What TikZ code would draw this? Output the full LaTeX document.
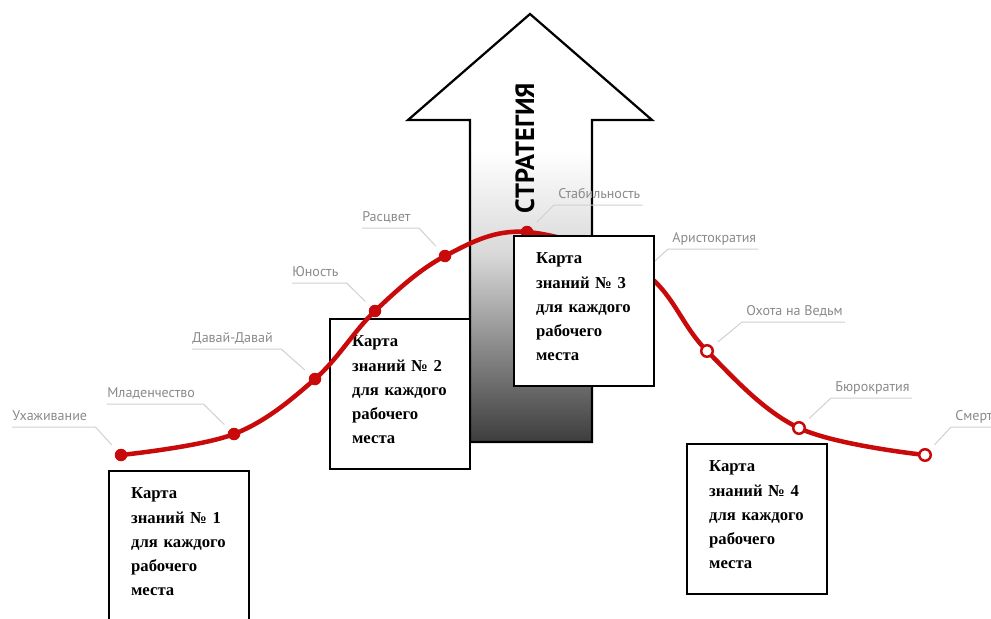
\documentclass[tikz,border=0pt]{standalone}
\usepackage{fontspec}
\setmainfont{Liberation Serif}
\newfontfamily\lblfont{PT Sans}
\usetikzlibrary{calc}

\definecolor{curvered}{HTML}{C80A0A}
\definecolor{lblgray}{HTML}{8A8A8A}
\definecolor{leadgray}{HTML}{D0D0D0}

%white head, darkening shaft
\pgfdeclareverticalshading{stratshade}{100bp}{color(0bp)=(black!76); color(25bp)=(black!76);
  color(36bp)=(black!46); color(47bp)=(black!15); color(59bp)=(white); color(100bp)=(white)}

\tikzset{
  kbox/.style={draw, fill=white, line width=0.45mm, anchor=north west,
    minimum width=28mm, minimum height=30mm, text width=19.2mm, inner xsep=4.4mm,
    align=left, font=\bfseries\fontsize{9.5}{13.7}\selectfont},
  lbl/.style={anchor=base west, inner sep=0, text=lblgray,
    font=\lblfont\fontsize{8}{9.6}\selectfont},
  leader/.style={draw=leadgray, line width=0.2mm},
  fulldot/.style={circle, fill=curvered, inner sep=0, minimum size=2.5mm},
  opendot/.style={circle, draw=curvered, fill=white, line width=0.5mm, inner sep=0, minimum size=2.3mm},
  curve/.style={curvered, line width=0.9mm, line cap=round},
  strat/.style={rotate=90, inner sep=0, font=\lblfont\bfseries\fontsize{15}{18}\selectfont}
}

\begin{document}
\begin{tikzpicture}[x=0.2mm,y=-0.2mm]
  \useasboundingbox (0,0) rectangle (991,618);

  %strategy arrow
  \draw[line width=0.45mm, shading=stratshade]
    (470,442) -- (470,120) -- (408,120) -- (530,14) -- (652,120) -- (592,120) -- (592,442) -- cycle;
  \node[strat] (strat) at (525,148) {СТРАТЕГИЯ};

  %card 2 lies under the curve
  \node[kbox] (k2) at (329,318) {Карта\\знаний~№~2\\для~каждого\\рабочего\\места\rule[-1.8mm]{0pt}{1.8mm}};

  %points of the life cycle
  \coordinate (c1) at (121,455);
  \coordinate (c2) at (234,434);
  \coordinate (c3) at (315,379);
  \coordinate (c4) at (375,311);
  \coordinate (c5) at (445,256);
  \coordinate (c6) at (527,232);
  \coordinate (c7) at (643,272);
  \coordinate (c8) at (707,351);
  \coordinate (c9) at (799,428);
  \coordinate (c10) at (925,455);

  %stage labels
  \node[lbl] (l1) at (12,420) {Ухаживание};
  \node[lbl] (l2) at (107,397) {Младенчество};
  \node[lbl] (l3) at (192,342) {Давай-Давай};
  \node[lbl] (l4) at (292,276) {Юность};
  \node[lbl] (l5) at (362,221) {Расцвет};
  \node[lbl] (l6) at (558,198) {Стабильность};
  \node[lbl] (l7) at (672,242) {Аристократия};
  \node[lbl] (l8) at (746,315) {Охота на Ведьм};
  \node[lbl] (l9) at (835,391) {Бюрократия};
  \node[lbl] (l10) at (955,420) {Смерть};

  %curve and dots
  \draw[curve] plot[smooth, tension=0.6] coordinates {(c1) (c2) (c3) (c4) (c5) (c6) (c7) (c8) (c9) (c10)};
  \node[fulldot] (p1) at (c1) {};
  \node[fulldot] (p2) at (c2) {};
  \node[fulldot] (p3) at (c3) {};
  \node[fulldot] (p4) at (c4) {};
  \node[fulldot] (p5) at (c5) {};
  \node[fulldot] (p6) at (c6) {};
  \node[opendot] (p7) at (c7) {};
  \node[opendot] (p8) at (c8) {};
  \node[opendot] (p9) at (c9) {};
  \node[opendot] (p10) at (c10) {};

  %leaders, left side
  \draw[leader, shorten >=1.4mm] ([shift={(0,7)}]l1.base west) -- ([shift={(8,7)}]l1.base east) -- (p1);
  \draw[leader, shorten >=1.4mm] ([shift={(0,7)}]l2.base west) -- ([shift={(8,7)}]l2.base east) -- (p2);
  \draw[leader, shorten >=1.4mm] ([shift={(0,7)}]l3.base west) -- ([shift={(8,7)}]l3.base east) -- (p3);
  \draw[leader, shorten >=1.4mm] ([shift={(0,7)}]l4.base west) -- ([shift={(8,7)}]l4.base east) -- (p4);
  \draw[leader, shorten >=1.4mm] ([shift={(0,7)}]l5.base west) -- ([shift={(8,7)}]l5.base east) -- (p5);
  %leaders, right side
  \draw[leader, shorten <=1.4mm] (p6) -- ([shift={(-4,7)}]l6.base west) -- ([shift={(2,7)}]l6.base east);
  \draw[leader, shorten <=1.4mm] (p7) -- ([shift={(-4,7)}]l7.base west) -- ([shift={(2,7)}]l7.base east);
  \draw[leader, shorten <=1.4mm] (p8) -- ([shift={(-4,7)}]l8.base west) -- ([shift={(2,7)}]l8.base east);
  \draw[leader, shorten <=1.4mm] (p9) -- ([shift={(-4,7)}]l9.base west) -- ([shift={(2,7)}]l9.base east);
  \draw[leader, shorten <=1.4mm] (p10) -- ([shift={(-4,7)}]l10.base west) -- ([shift={(2,7)}]l10.base east);

  %cards on top
  \node[kbox] (k3) at (513,235) {Карта\\знаний~№~3\\для~каждого\\рабочего\\места\rule[-1.8mm]{0pt}{1.8mm}};
  \node[kbox] (k1) at (108,470) {Карта\\знаний~№~1\\для~каждого\\рабочего\\места\rule[-1.8mm]{0pt}{1.8mm}};
  \node[kbox] (k4) at (686,443) {Карта\\знаний~№~4\\для~каждого\\рабочего\\места\rule[-1.8mm]{0pt}{1.8mm}};
\end{tikzpicture}
\end{document}
